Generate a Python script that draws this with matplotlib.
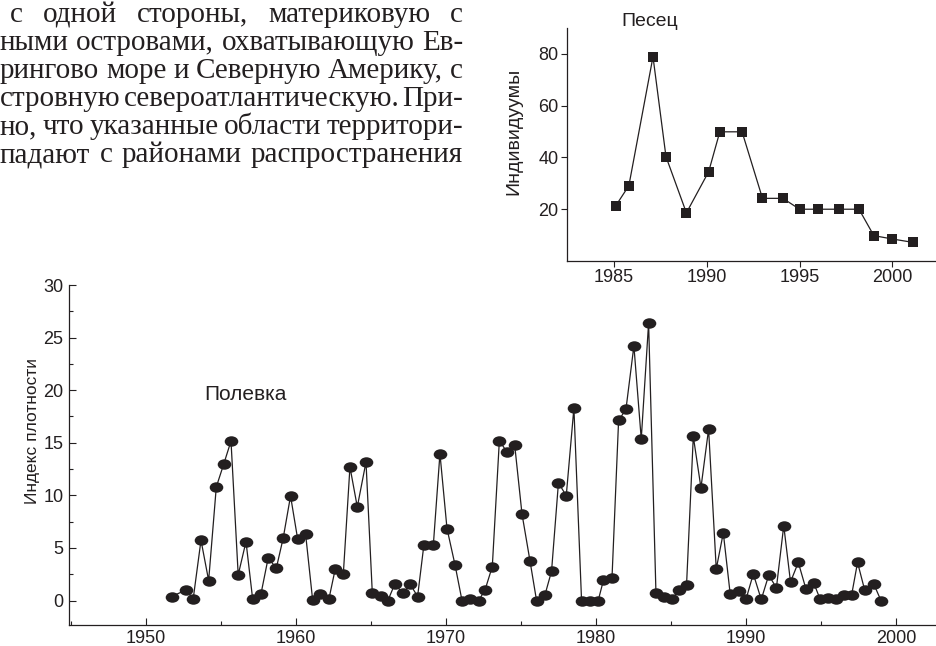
import matplotlib
matplotlib.use('Agg')
import matplotlib.pyplot as plt
from matplotlib.path import Path
from matplotlib.transforms import Affine2D
from matplotlib.ticker import MultipleLocator, FixedLocator

# ---------------- data ----------------
vole_year = [1951.71, 1952.67, 1953.15, 1953.67, 1954.18, 1954.69, 1955.18, 1955.67,
             1956.15, 1956.67, 1957.11, 1957.67, 1958.15, 1958.69, 1959.15, 1959.64,
             1960.11, 1960.64, 1961.11, 1961.62, 1962.20, 1962.62, 1963.16, 1963.60,
             1964.09, 1964.67, 1965.09, 1965.64, 1966.13, 1966.58, 1967.13, 1967.62,
             1968.11, 1968.53, 1969.16, 1969.60, 1970.07, 1970.60, 1971.07, 1971.60,
             1972.18, 1972.60, 1973.09, 1973.56, 1974.07, 1974.58, 1975.07, 1975.60,
             1976.04, 1976.60, 1977.04, 1977.50, 1978.02, 1978.53, 1979.04, 1979.60,
             1980.15, 1980.50, 1981.07, 1981.51, 1982.00, 1982.53, 1983.02, 1983.51,
             1984.00, 1984.52, 1985.07, 1985.52, 1986.04, 1986.49, 1987.00, 1987.51,
             1988.02, 1988.49, 1988.95, 1989.52, 1990.00, 1990.49, 1991.02, 1991.52,
             1992.03, 1992.52, 1992.97, 1993.49, 1994.00, 1994.52, 1994.93, 1995.47,
             1996.00, 1996.52, 1997.04, 1997.44, 1997.92, 1998.51, 1999.00]
vole_index = [0.38, 1.00, 0.16, 5.73, 1.90, 10.80, 12.95, 15.16,
              2.44, 5.60, 0.18, 0.64, 4.06, 3.07, 5.94, 9.94,
              5.88, 6.36, 0.08, 0.62, 0.16, 3.00, 2.56, 12.70,
              8.90, 13.17, 0.73, 0.41, 0.00, 1.54, 0.71, 1.54,
              0.38, 5.30, 5.30, 13.97, 6.84, 3.42, 0.00, 0.10,
              0.00, 0.98, 3.23, 15.19, 14.12, 14.81, 8.23, 3.79,
              0.00, 0.53, 2.79, 11.20, 9.96, 18.30, 0.00, 0.00,
              0.00, 1.93, 2.15, 17.12, 18.18, 24.21, 15.36, 26.39,
              0.73, 0.32, 0.16, 0.97, 1.50, 15.60, 10.72, 16.30,
              3.00, 6.43, 0.62, 0.87, 0.10, 2.53, 0.10, 2.42,
              1.20, 7.12, 1.77, 3.62, 1.10, 1.67, 0.18, 0.25,
              0.18, 0.49, 0.49, 3.62, 0.97, 1.61, 0.00]

fox_year = [1985.1, 1985.8, 1987.1, 1987.8, 1988.9, 1990.1, 1990.7, 1991.9, 1993.0,
            1994.1, 1995.0, 1996.0, 1997.1, 1998.2, 1999.0, 2000.0, 2001.1]
fox_count = [21.4, 29.1, 78.9, 40.3, 18.6, 34.5, 49.9, 49.9, 24.2,
             24.2, 20.0, 20.0, 20.0, 20.0, 9.8, 8.5, 7.2]

main_xticks = [1950, 1960, 1970, 1980, 1990, 2000]
main_yticks = [0, 5, 10, 15, 20, 25, 30]
inset_xticks = [1985, 1990, 1995, 2000]
inset_yticks = [20, 40, 60, 80]

vole_label = 'Полевка'
vole_ylabel = 'Индекс плотности'
fox_label = 'Песец'
fox_ylabel = 'Индивидуумы'

text_lines = [
    'с одной стороны, материковую с',
    'ными островами, охватывающую Ев-',
    'рингово море и Северную Америку, с',
    'стровную североатлантическую. При-',
    'но, что указанные области территори-',
    'падают с районами распространения',
]

# ---------------- figure ----------------
W, H = 936, 646
INK = '#231f20'
plt.rcParams['font.family'] = ['Liberation Sans', 'DejaVu Sans']
fig = plt.figure(figsize=(W / 100, H / 100), dpi=100)


def px_axes(l, t, r, b):
    return fig.add_axes([l / W, 1 - b / H, (r - l) / W, (b - t) / H])


# main chart
ax = px_axes(69, 285, 936, 624.5)
ax.patch.set_alpha(0)
ax.set_xlim(1944.87, 2002.67)
ax.set_ylim(-2.28, 30)
ellipse = Path.unit_circle().transformed(Affine2D().scale(1.3, 1.0))
ax.plot(vole_year, vole_index, color=INK, lw=0.9, marker=ellipse, ms=9.8,
        mfc=INK, mec=INK, mew=0, clip_on=False)
for s in ('top', 'right'):
    ax.spines[s].set_visible(False)
for s in ('left', 'bottom'):
    ax.spines[s].set_color(INK)
    ax.spines[s].set_linewidth(0.9)
ax.xaxis.set_major_locator(FixedLocator(main_xticks))
ax.xaxis.set_minor_locator(MultipleLocator(5))
ax.yaxis.set_major_locator(FixedLocator(main_yticks))
ax.yaxis.set_minor_locator(MultipleLocator(2.5))
ax.tick_params(which='major', direction='in', length=5, width=0.8, color=INK,
               labelsize=13, labelcolor=INK, pad=4)
ax.tick_params(which='minor', direction='in', length=3, width=0.8, color=INK)
ax.text(1953.9, 19.6, vole_label, ha='left', va='center', fontsize=15, color=INK)
fig.text(33 / W, 1 - 431 / H, vole_ylabel, rotation=90, ha='center', va='center',
         fontsize=12.5, color=INK)

# inset chart
ax2 = px_axes(566.7, 28, 936, 261)
ax2.patch.set_alpha(0)
ax2.set_xlim(1982.45, 2002.35)
ax2.set_ylim(0, 90)
ax2.plot(fox_year, fox_count, color=INK, lw=0.9, marker='s', ms=7.3,
         mfc=INK, mec=INK, mew=0, clip_on=False)
for s in ('top', 'right'):
    ax2.spines[s].set_visible(False)
for s in ('left', 'bottom'):
    ax2.spines[s].set_color(INK)
    ax2.spines[s].set_linewidth(0.9)
ax2.xaxis.set_major_locator(FixedLocator(inset_xticks))
ax2.yaxis.set_major_locator(FixedLocator(inset_yticks))
ax2.tick_params(which='major', direction='out', length=4, width=0.8, color=INK,
                labelsize=13, labelcolor=INK, pad=2)
fig.text(650 / W, 1 - 22 / H, fox_label, ha='center', va='center', fontsize=14, color=INK)
fig.text(514 / W, 1 - 131 / H, fox_ylabel, rotation=90, ha='center', va='center',
         fontsize=14, color=INK)

# justified text block
renderer = fig.canvas.get_renderer()
line_start = [10, 0, 0, 0, 0, 0]
right_edge = 463
baseline0, leading = 22, 28
serif = ['Liberation Serif', 'DejaVu Serif']
for i, line in enumerate(text_lines):
    words = line.split()
    y = 1 - (baseline0 + i * leading) / H
    objs = [fig.text(0, y, w, ha='left', va='baseline', fontsize=21,
                     family=serif, color=INK) for w in words]
    widths = [o.get_window_extent(renderer).width for o in objs]
    gap = (right_edge - line_start[i] - sum(widths)) / max(len(words) - 1, 1)
    x = line_start[i]
    for o, wd in zip(objs, widths):
        o.set_x(x / W)
        x += wd + gap

fig.savefig('out.png', dpi=100)
